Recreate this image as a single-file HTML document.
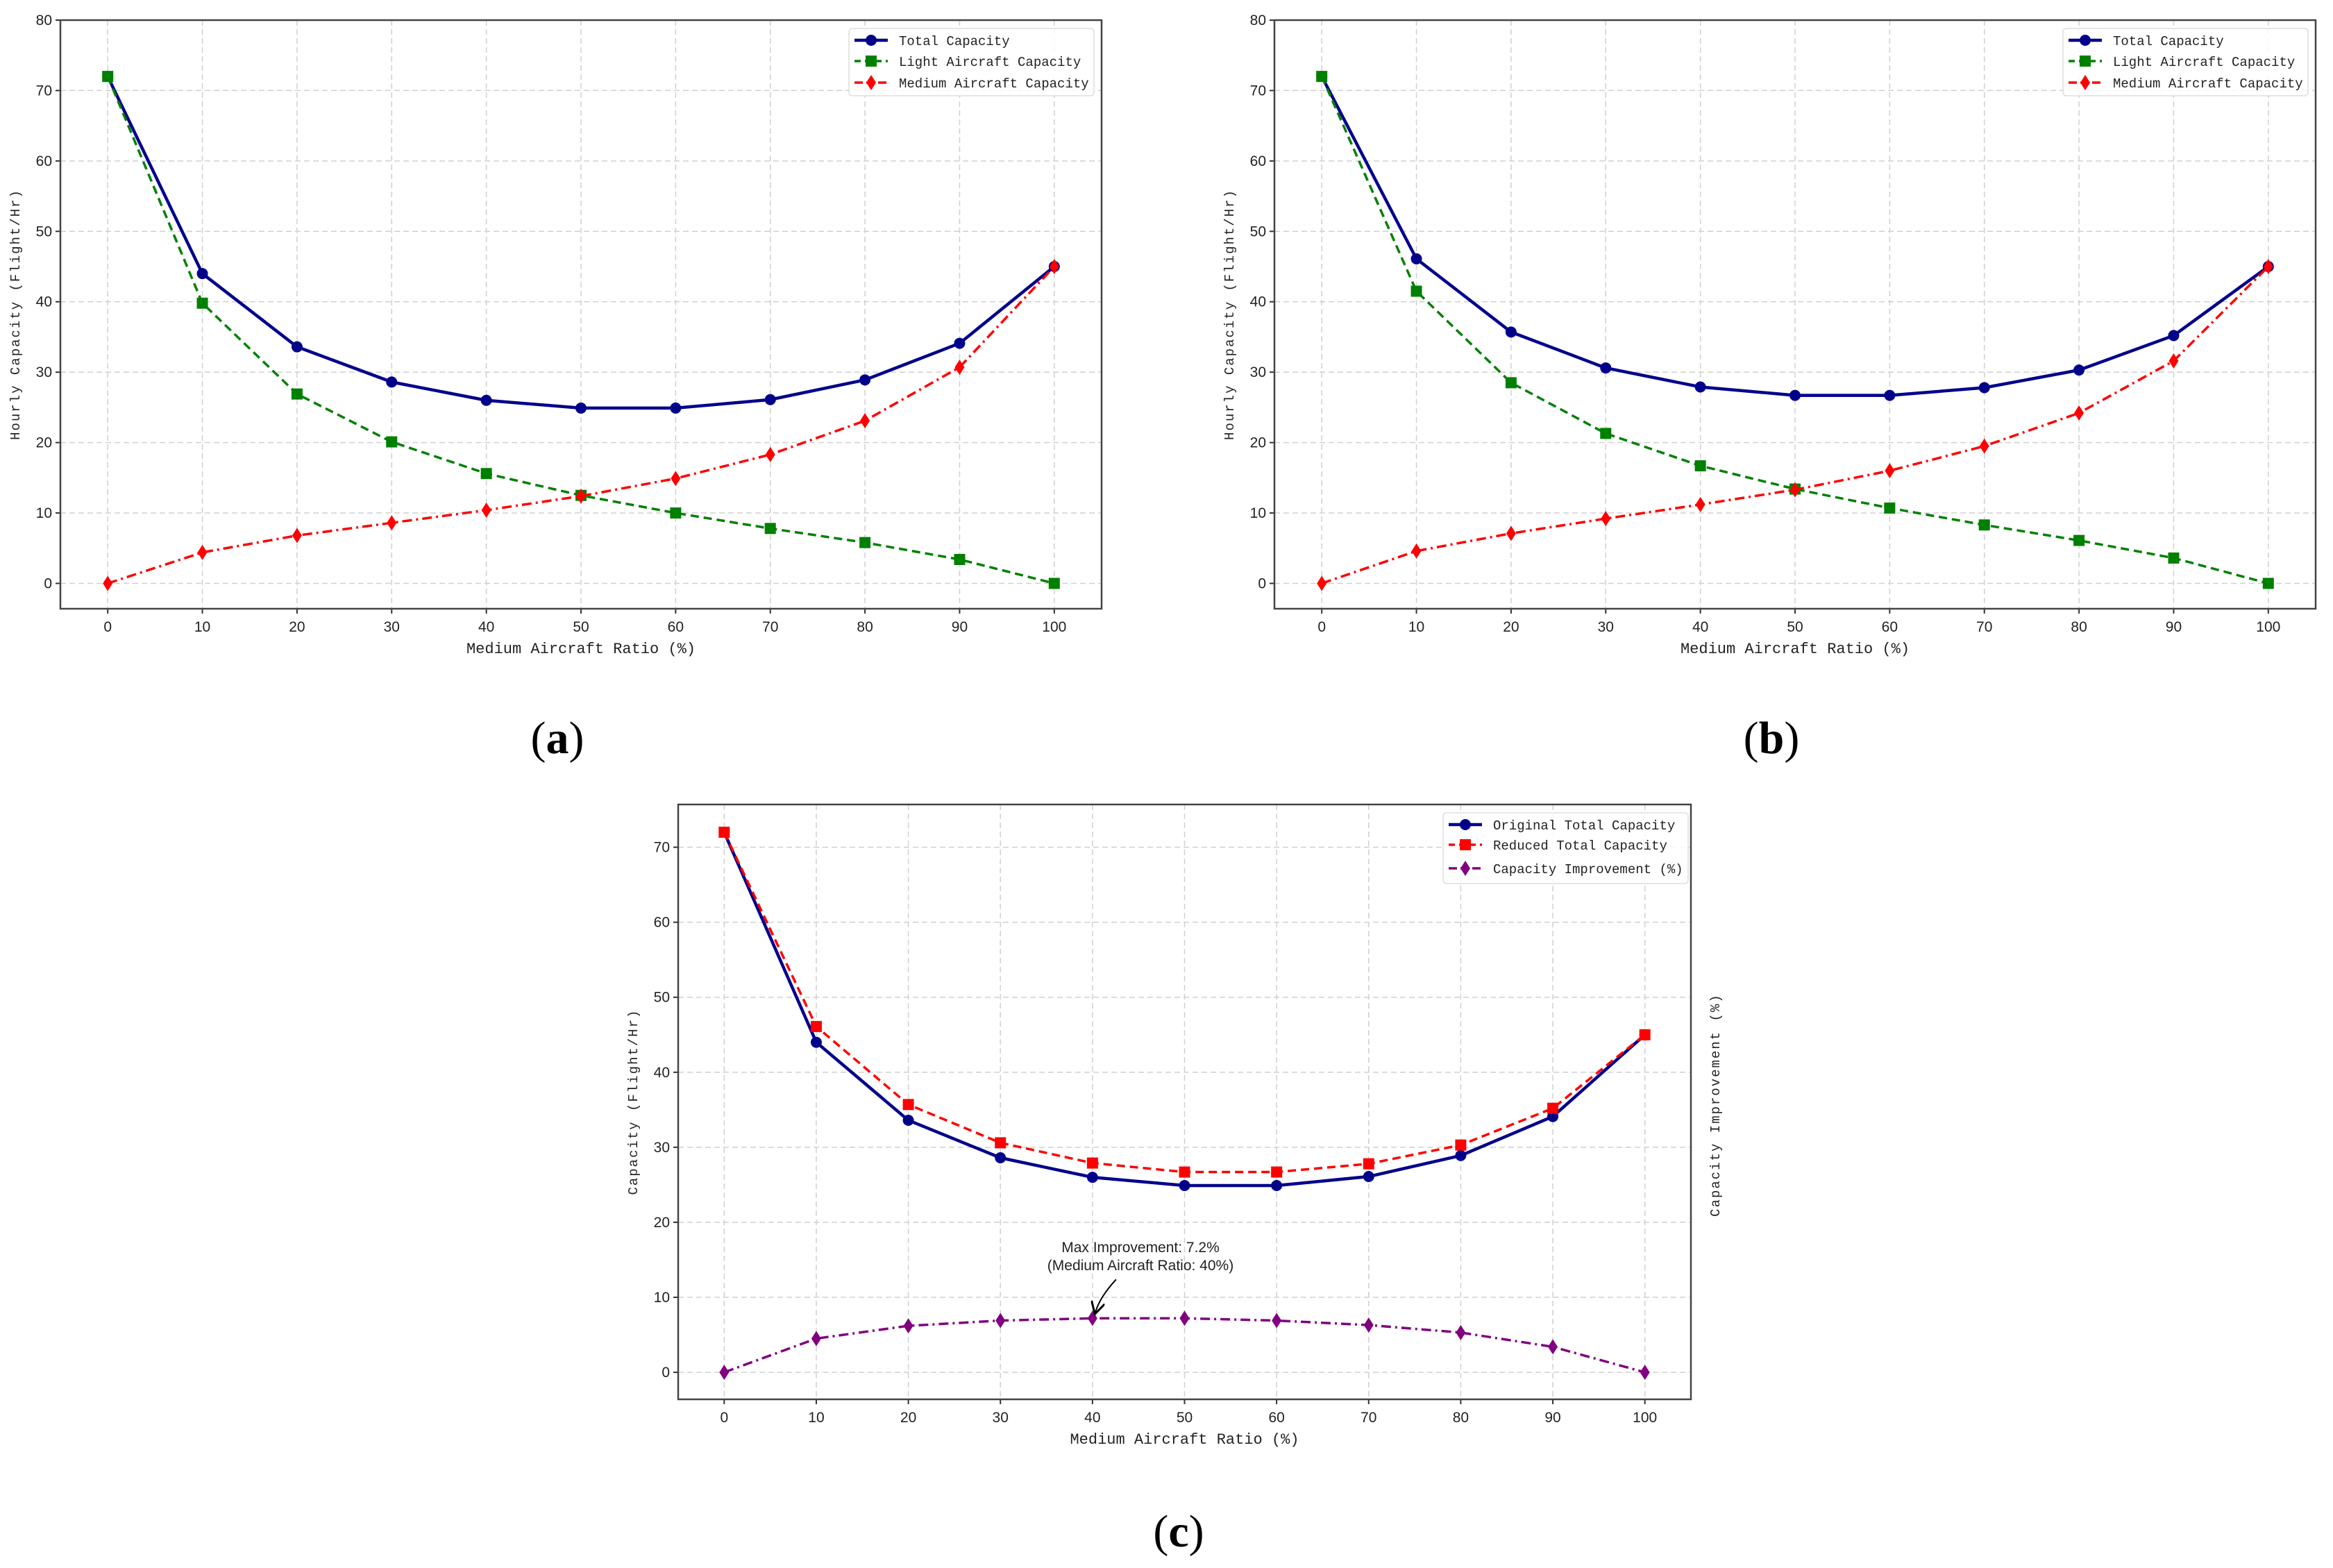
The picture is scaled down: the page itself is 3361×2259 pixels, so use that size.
<!DOCTYPE html>
<html><head><meta charset="utf-8">
<style>
html,body{margin:0;padding:0;background:#fff;}
svg{display:block;}
.tick{font-family:"Liberation Sans Narrow","Liberation Sans",sans-serif;font-size:21px;fill:#222;}
.mono{font-family:"Liberation Mono",monospace;fill:#222;}
.cap{font-family:"Liberation Serif",serif;font-size:66px;fill:#000;}
</style></head>
<body>
<svg id="fig" width="3361" height="2259" viewBox="0 0 3361 2259" xmlns="http://www.w3.org/2000/svg">
<defs>
<marker id="arrowhead" markerWidth="10" markerHeight="10" refX="8" refY="5" orient="auto"><path d="M0,0 L9,5 L0,10" fill="none" stroke="#000" stroke-width="1.5"/></marker>
</defs>
</svg>
<script>
const xCats = [0,10,20,30,40,50,60,70,80,90,100];
const aTotal = [72,44,33.6,28.6,26,24.9,24.9,26.1,28.9,34.1,45];
const aLight = [72,39.8,26.9,20.1,15.6,12.5,10,7.8,5.8,3.4,0];
const aMedium = [0,4.4,6.8,8.6,10.4,12.4,14.9,18.3,23.1,30.7,45];
const bTotal = [72,46.1,35.7,30.6,27.9,26.7,26.7,27.8,30.3,35.2,45];
const bLight = [72,41.5,28.5,21.3,16.7,13.4,10.7,8.3,6.1,3.6,0];
const bMedium = [0,4.6,7.1,9.2,11.2,13.3,16.0,19.5,24.2,31.6,45];
const cOriginal = [72,44,33.6,28.6,26,24.9,24.9,26.1,28.9,34.1,45];
const cReduced = [72,46.1,35.7,30.6,27.9,26.7,26.7,27.8,30.3,35.2,45];
const cImprove = [0,4.5,6.2,6.9,7.2,7.2,6.9,6.3,5.3,3.4,0];
const abYTicks = [0,10,20,30,40,50,60,70,80];
const cYTicks = [0,10,20,30,40,50,60,70];
const xTickLabels = ["0","10","20","30","40","50","60","70","80","90","100"];

const NS='http://www.w3.org/2000/svg';
const svg=document.getElementById('fig');
function mk(tag,attrs,parent){const e=document.createElementNS(NS,tag);for(const k in attrs)e.setAttribute(k,attrs[k]);(parent||svg).appendChild(e);return e;}

const styles={
 total:{color:'#00008B',dash:'',w:4.5,marker:'circle'},
 light:{color:'#008000',dash:'12,7',w:3.5,marker:'square'},
 medium:{color:'#FF0000',dash:'14,6,3,6',w:3.5,marker:'diamond'},
 reduced:{color:'#FF0000',dash:'12,7',w:3.5,marker:'square'},
 improve:{color:'#800080',dash:'14,6,3,6',w:3.5,marker:'diamond'}
};

function drawMarker(g,type,x,y,color){
 let m;
 if(type==='circle')m=mk('circle',{cx:x,cy:y,r:8,fill:color},g);
 else if(type==='square')m=mk('rect',{x:x-8,y:y-8,width:16,height:16,fill:color},g);
 else m=mk('path',{d:`M${x},${y-11} L${x+7},${y} L${x},${y+11} L${x-7},${y}Z`,fill:color},g);
 return m;
}

function panel(cfg){
 const g=mk('g',{});
 
 
 const sx=v=>cfg.x0+(v-cfg.xmin)/(cfg.xmax-cfg.xmin)*(cfg.x1-cfg.x0);
 const sy=v=>cfg.y1-(v-cfg.ymin)/(cfg.ymax-cfg.ymin)*(cfg.y1-cfg.y0);
 // grid
 const grid=mk('g',{},g);
 
 
 xCats.forEach(v=>mk('line',{x1:sx(v),x2:sx(v),y1:cfg.y0,y2:cfg.y1,stroke:'#d0d0d0','stroke-width':1.5,'stroke-dasharray':'8,5'},grid));
 cfg.yticks.forEach(v=>mk('line',{x1:cfg.x0,x2:cfg.x1,y1:sy(v),y2:sy(v),stroke:'#d0d0d0','stroke-width':1.5,'stroke-dasharray':'8,5'},grid));
 // ticks
 const xt=mk('g',{},g);
 
 
 xCats.forEach((v,i)=>{mk('line',{x1:sx(v),x2:sx(v),y1:cfg.y1,y2:cfg.y1+7,stroke:'#333','stroke-width':2},xt);
  const t=mk('text',{x:sx(v),y:cfg.y1+33,'text-anchor':'middle',class:'tick'},xt);t.textContent=xTickLabels[i];});
 const yt=mk('g',{},g);
 
 
 cfg.yticks.forEach(v=>{mk('line',{x1:cfg.x0-7,x2:cfg.x0,y1:sy(v),y2:sy(v),stroke:'#333','stroke-width':2},yt);
  const t=mk('text',{x:cfg.x0-12,y:sy(v)+7,'text-anchor':'end',class:'tick'},yt);t.textContent=String(v);});
 // series
 cfg.series.forEach(s=>{
  const st=styles[s.style];
  const sg=mk('g',{},g);
  
  
  const pts=s.data.map((v,i)=>sx(xCats[i])+','+sy(v)).join(' ');
  const pl=mk('polyline',{points:pts,fill:'none',stroke:st.color,'stroke-width':st.w,'stroke-linejoin':'round'},sg);
  if(st.dash)pl.setAttribute('stroke-dasharray',st.dash);
  s.data.forEach((v,i)=>drawMarker(sg,st.marker,sx(xCats[i]),sy(v),st.color));
 });
 // frame
 const fr=mk('rect',{x:cfg.x0,y:cfg.y0,width:cfg.x1-cfg.x0,height:cfg.y1-cfg.y0,fill:'none',stroke:'#444','stroke-width':2.5},g);
 
 
 // x label
 const xl=mk('text',{x:(cfg.x0+cfg.x1)/2,y:cfg.y1+64,'text-anchor':'middle',class:'mono','font-size':22},g);
 xl.textContent='Medium Aircraft Ratio (%)';
 
 
 // y label
 const cy=(cfg.y0+cfg.y1)/2;
 const yl=mk('text',{x:cfg.ylabX,y:cy,'text-anchor':'middle',class:'mono','font-size':19,'letter-spacing':2,transform:`rotate(-90 ${cfg.ylabX} ${cy})`},g);
 yl.textContent=cfg.ylabel;
 
 
 // legend
 const L=cfg.legend;
 const lg=mk('g',{},g);
 
 
 mk('rect',{x:L.x,y:L.y,width:L.w,height:L.h,rx:5,fill:'#fff','fill-opacity':0.85,stroke:'#ddd','stroke-width':1.5},lg);
 cfg.series.forEach((s,i)=>{
  const st=styles[s.style];const ry=L.y+L.rows[i];
  const e=mk('g',{},lg);
  
  
  const ln=mk('line',{x1:L.x+8,x2:L.x+56,y1:ry,y2:ry,stroke:st.color,'stroke-width':st.w},e);
  if(st.dash)ln.setAttribute('stroke-dasharray',st.dash==='12,7'?'9,6':'12,5');
  drawMarker(e,st.marker,L.x+32,ry,st.color);
  const t=mk('text',{x:L.x+72,y:ry+7,class:'mono','font-size':19},e);t.textContent=s.label;
 });
 return {g,sx,sy};
}

panel({name:'panel-a',x0:87,x1:1587,y0:29,y1:877,xmin:-5,xmax:105,ymin:-3.6,ymax:80,yticks:abYTicks,ylabX:28,ylabel:'Hourly Capacity (Flight/Hr)',
 legend:{x:1223,y:41,w:353,h:97,rows:[17,47,78]},
 series:[{name:'total-capacity-line',style:'total',data:aTotal,label:'Total Capacity'},
  {name:'light-capacity-line',style:'light',data:aLight,label:'Light Aircraft Capacity'},
  {name:'medium-capacity-line',style:'medium',data:aMedium,label:'Medium Aircraft Capacity'}]});
panel({name:'panel-b',x0:1836,x1:3336,y0:29,y1:877,xmin:-5,xmax:105,ymin:-3.6,ymax:80,yticks:abYTicks,ylabX:1777,ylabel:'Hourly Capacity (Flight/Hr)',
 legend:{x:2972,y:41,w:353,h:97,rows:[17,47,78]},
 series:[{name:'total-capacity-line',style:'total',data:bTotal,label:'Total Capacity'},
  {name:'light-capacity-line',style:'light',data:bLight,label:'Light Aircraft Capacity'},
  {name:'medium-capacity-line',style:'medium',data:bMedium,label:'Medium Aircraft Capacity'}]});
const pc=panel({name:'panel-c',x0:977,x1:2436,y0:1159,y1:2016,xmin:-5,xmax:105,ymin:-3.6,ymax:75.7,yticks:cYTicks,ylabX:918,ylabel:'Capacity (Flight/Hr)',
 legend:{x:2079,y:1171,w:353,h:102,rows:[17,46,80]},
 series:[{name:'original-total-line',style:'total',data:cOriginal,label:'Original Total Capacity'},
  {name:'reduced-total-line',style:'reduced',data:cReduced,label:'Reduced Total Capacity'},
  {name:'improvement-line',style:'improve',data:cImprove,label:'Capacity Improvement (%)'}]});

// right axis label for c
const rl=mk('text',{x:2477,y:1592,'text-anchor':'middle',class:'mono','font-size':19,'letter-spacing':2,transform:'rotate(-90 2477 1592)'});
rl.textContent='Capacity Improvement (%)';



// annotation
const maxIdx=cImprove.indexOf(Math.max(...cImprove));
const px=pc.sx(xCats[maxIdx]), py=pc.sy(cImprove[maxIdx]);
const ann=mk('g',{});


const t1=mk('text',{x:1643,y:1804,'text-anchor':'middle',class:'tick','font-size':20},ann);t1.textContent='Max Improvement: '+cImprove[maxIdx]+'%';
const t2=mk('text',{x:1643,y:1830,'text-anchor':'middle',class:'tick','font-size':20},ann);t2.textContent='(Medium Aircraft Ratio: '+xCats[maxIdx]+'%)';
mk('path',{d:`M${px+34},${py-56} Q${px+10},${py-30} ${px+4},${py-8}`,fill:'none',stroke:'#000','stroke-width':2,'marker-end':'url(#arrowhead)'},ann);

// captions
[['(a)',803,1085,'caption-a'],['(b)',2552,1085,'caption-b'],['(c)',1698,2228,'caption-c']].forEach(c=>{
 const t=mk('text',{x:c[1],y:c[2],'text-anchor':'middle',class:'cap'});
 t.innerHTML='(<tspan font-weight="bold">'+c[0][1]+'</tspan>)';
 
 
});
</script>
</body></html>
